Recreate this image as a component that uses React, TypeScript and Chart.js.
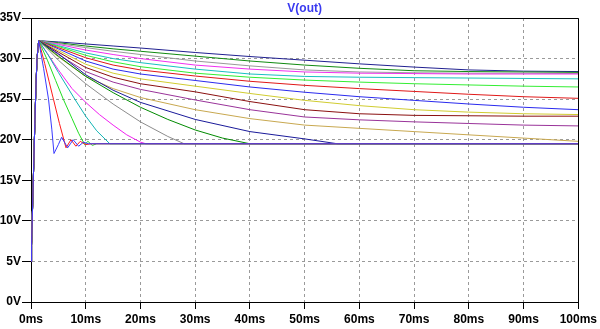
import { useEffect, useRef } from "react";
import { Chart, registerables } from "chart.js";

Chart.register(...registerables);

// ---- Axis ranges / ticks ----
const X_MIN = 0;
const X_MAX = 100;
const X_STEP = 10;
const Y_MIN = 0;
const Y_MAX = 35;
const Y_STEP = 5;
const TITLE = "V(out)";

// ---- Shared start-up rise (ms, V) ----
const RISE_T = [0, 0.1, 0.3, 0.5, 0.7, 0.9, 1.1, 1.4];
const RISE_V = [5, 7, 12, 17, 22, 26.5, 30, 32.2];

// ---- Slow curves share these sample times (ms) ----
const S_T = [5, 10, 15, 20, 30, 40, 50, 60, 70, 80, 90, 100];

// Fast curves (each with its own sample times)
const C1_T = [2.3, 3.2, 3.8, 4.2, 5.0, 5.6, 6.2, 6.7, 7.2, 7.7, 8.2, 8.7, 9.6, 10.5, 100];
const C1_V = [28.8, 25.0, 21.3, 18.3, 19.4, 20.3, 19.6, 19.0, 19.5, 20.0, 19.6, 19.2, 19.7, 19.5, 19.5];
const C2_T = [2.5, 3.3, 4.1, 5.2, 6.4, 7.3, 8.2, 9.0, 10, 11, 100];
const C2_V = [29.4, 27.2, 25.0, 22.0, 19.0, 20.0, 19.2, 19.8, 19.4, 19.5, 19.5];
const C3_T = [3, 4.5, 5.9, 7.5, 8.7, 9.8, 10.4, 11.2, 12, 100];
const C3_V = [29.8, 27.3, 25.0, 22.6, 20.8, 19.4, 19.8, 19.3, 19.5, 19.5];
const C4_T = [3, 5, 8, 10, 12, 14.4, 100];
const C4_V = [30.6, 28.3, 25.0, 22.9, 21.1, 19.5, 19.5];
const C5_T = [3, 5, 7.5, 10, 12.5, 15, 17.5, 20, 21, 100];
const C5_V = [30.6, 28.6, 26.3, 24.6, 23.1, 21.8, 20.6, 19.7, 19.5, 19.5];
const C6_T = [3, 5, 7.5, 10, 15, 20, 25, 28, 100];
const C6_V = [31.2, 29.8, 28.3, 26.9, 24.4, 22.2, 20.4, 19.5, 19.5];
const C7_T = [5, 10, 15, 20, 25, 30, 35, 40, 100];
const C7_V = [30.3, 27.8, 25.8, 24.0, 22.5, 21.2, 20.2, 19.5, 19.5];
const C8_T = [5, 10, 15, 20, 30, 40, 50, 56, 100];
const C8_V = [30.6, 28.0, 26.1, 24.6, 22.5, 21.0, 20.1, 19.5, 19.5];

const C9_V = [30.2, 27.8, 26.3, 25.2, 23.7, 22.6, 21.8, 21.4, 21.0, 20.6, 20.2, 19.8];
const C10_V = [30.5, 28.4, 27.1, 26.2, 24.9, 23.7, 22.8, 22.45, 22.2, 22.0, 21.8, 21.7];
const C11_V = [30.8, 28.9, 27.7, 26.9, 25.9, 24.7, 23.7, 23.2, 23.0, 22.95, 22.9, 22.9];
const C12_V = [31.0, 29.3, 28.2, 27.5, 26.6, 25.7, 24.85, 24.2, 23.7, 23.4, 23.2, 23.1];
const C13_V = [31.2, 29.7, 28.7, 28.1, 27.3, 26.5, 25.85, 25.3, 24.85, 24.4, 24.0, 23.7];
const C14_V = [31.35, 30.1, 29.2, 28.6, 27.85, 27.2, 26.7, 26.3, 25.95, 25.6, 25.3, 25.1];
const C15_V = [31.5, 30.4, 29.6, 29.0, 28.2, 27.7, 27.35, 27.1, 26.9, 26.75, 26.6, 26.5];
const C16_V = [31.6, 30.7, 30.0, 29.5, 28.7, 28.1, 27.8, 27.7, 27.65, 27.6, 27.55, 27.5];
const C17_V = [31.75, 31.05, 30.5, 30.0, 29.2, 28.7, 28.35, 28.2, 28.15, 28.1, 28.1, 28.1];
const C18_V = [31.85, 31.35, 30.9, 30.5, 29.7, 29.1, 28.6, 28.35, 28.25, 28.2, 28.2, 28.15];
const C19_V = [31.95, 31.55, 31.2, 30.9, 30.3, 29.7, 29.2, 28.8, 28.5, 28.4, 28.35, 28.3];
const C20_V = [32.05, 31.8, 31.55, 31.3, 30.75, 30.25, 29.8, 29.35, 28.95, 28.6, 28.45, 28.4];

const CURVES: [number[], number[]][] = [
  [C1_T, C1_V], [C2_T, C2_V], [C3_T, C3_V], [C4_T, C4_V], [C5_T, C5_V],
  [C6_T, C6_V], [C7_T, C7_V], [C8_T, C8_V],
  [S_T, C9_V], [S_T, C10_V], [S_T, C11_V], [S_T, C12_V], [S_T, C13_V],
  [S_T, C14_V], [S_T, C15_V], [S_T, C16_V], [S_T, C17_V], [S_T, C18_V],
  [S_T, C19_V], [S_T, C20_V],
];

const COLORS = [
  "#3a3aff", "#ff1a1a", "#22dd22", "#10b4b4", "#f020f0", "#8c8c8c",
  "#008a00", "#1a1a9a", "#c8a850", "#993399", "#8a1010", "#d0cc30",
  "#2a2aee", "#e01818", "#33ee33", "#18c0c0", "#f030f0", "#999999",
  "#108a10", "#202090",
];

const FONT = { family: "'Liberation Sans', Arial, sans-serif", size: 12, weight: "bold" as const };

function buildData(t: number[], v: number[]) {
  const pts: { x: number; y: number }[] = [];
  for (let i = 0; i < RISE_T.length; i++) pts.push({ x: RISE_T[i], y: RISE_V[i] });
  for (let i = 0; i < t.length; i++) pts.push({ x: t[i], y: v[i] });
  return pts;
}

const framePlugin = {
  id: "frameAndTitle",
  afterDraw(chart: any) {
    const { ctx, chartArea } = chart;
    const { left, top, right, bottom } = chartArea;
    ctx.save();
    ctx.strokeStyle = "#000";
    ctx.lineWidth = 1;
    ctx.setLineDash([]);
    const t = Math.round(top) + 0.5;
    const r = Math.round(right) + 0.5;
    ctx.beginPath();
    ctx.moveTo(Math.round(left), t);
    ctx.lineTo(r, t);
    ctx.lineTo(r, Math.round(bottom) + 1);
    ctx.stroke();
    ctx.fillStyle = "#3a3af0";
    ctx.font = "bold 12px 'Liberation Sans', Arial, sans-serif";
    ctx.textAlign = "center";
    ctx.textBaseline = "middle";
    ctx.fillText(TITLE, (left + right) / 2, 9);
    ctx.restore();
  },
};

export default function App() {
  const ref = useRef<HTMLCanvasElement | null>(null);

  useEffect(() => {
    if (!ref.current) return;
    const datasets = CURVES.map(([t, v], i) => ({
      data: buildData(t, v),
      borderColor: COLORS[i],
      backgroundColor: COLORS[i],
      borderWidth: 1,
      pointRadius: 0,
      tension: 0,
      fill: false,
    }));
    const chart = new Chart(ref.current, {
      type: "line",
      data: { datasets },
      options: {
        animation: false,
        responsive: false,
        parsing: true,
        layout: { padding: { top: 18, right: 20, left: 0, bottom: 0 } },
        plugins: { legend: { display: false }, tooltip: { enabled: false }, title: { display: false } },
        scales: {
          x: {
            type: "linear",
            min: X_MIN,
            max: X_MAX,
            ticks: {
              stepSize: X_STEP,
              color: "#000",
              font: FONT,
              padding: 3,
              maxRotation: 0,
              callback: (v: any) => `${v}ms`,
            },
            grid: { color: "#9a9a9a", tickColor: "#000", tickLength: 7, tickBorderDash: [] },
            border: { color: "#000", width: 1, dash: [3, 3] },
            afterFit: (s: any) => { s.height = 27; },
          },
          y: {
            type: "linear",
            min: Y_MIN,
            max: Y_MAX,
            ticks: {
              stepSize: Y_STEP,
              color: "#000",
              font: FONT,
              padding: 1,
              callback: (v: any) => `${v}V`,
            },
            grid: { color: "#9a9a9a", tickColor: "#000", tickLength: 9, tickBorderDash: [] },
            border: { color: "#000", width: 1, dash: [3, 3] },
            afterFit: (s: any) => { s.width = 31; },
          },
        },
      },
      plugins: [framePlugin],
    });
    return () => chart.destroy();
  }, []);

  return (
    <div style={{ position: "absolute", left: 0, top: 0, width: 600, height: 329, background: "#fff" }}>
      <canvas ref={ref} width={600} height={329} style={{ display: "block" }} />
    </div>
  );
}
